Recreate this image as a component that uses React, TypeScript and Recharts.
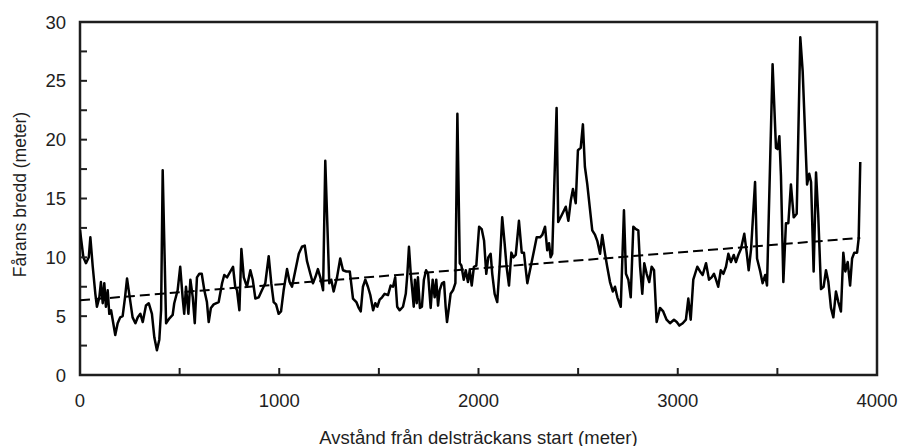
import React from "react";
import { LineChart, Line, XAxis, YAxis, ReferenceArea } from "recharts";

// avstånd (m) och fårans bredd (m)
const distance = [
  0, 17, 30, 44, 52, 64, 77, 85, 97, 105, 114, 122, 130, 139, 147, 156, 164, 177, 189, 202,
  214, 226, 236, 247, 264, 278, 290, 303, 315, 331, 345, 361, 373, 386, 398, 407, 415, 432, 448, 465,
  473, 490, 503, 515, 523, 532, 544, 554, 566, 576, 587, 599, 611, 624, 637,
  646, 657, 671, 696, 713, 724, 738, 768, 779, 788, 800, 810, 822, 838, 855, 867, 880, 897, 913, 930,
  947, 960, 972, 984, 997, 1009, 1022, 1039, 1052, 1064, 1081, 1098, 1114, 1128, 1139, 1156, 1169, 1181, 1194, 1206,
  1220, 1231, 1251, 1261, 1273, 1290, 1306,
  1320, 1337, 1354, 1370, 1387, 1399, 1409, 1420, 1432, 1445, 1457, 1471, 1482, 1492, 1504, 1516, 1529, 1546, 1559, 1571,
  1582, 1592, 1604, 1621, 1635, 1643, 1651, 1660, 1666, 1675, 1681, 1690, 1696, 1706, 1716, 1726, 1737, 1747, 1760, 1770,
  1780, 1788, 1797, 1805, 1817, 1827, 1835, 1842, 1852, 1860, 1872, 1884, 1894, 1906, 1914, 1926, 1936, 1947, 1956,
  1966, 1977, 1989, 2003, 2016, 2028, 2039, 2049, 2061, 2069, 2081, 2094, 2106, 2119, 2131, 2141, 2153, 2165, 2175, 2187,
  2203, 2217, 2228, 2237, 2245, 2262, 2279, 2292, 2309, 2320, 2334, 2345, 2354, 2362, 2370, 2392, 2400, 2418, 2438, 2451,
  2463, 2474, 2488, 2499, 2513, 2524, 2534, 2546, 2558, 2571, 2585, 2596, 2610, 2621,
  2635, 2646, 2660, 2674, 2685, 2697, 2714, 2730, 2740, 2752, 2764, 2777, 2790, 2802, 2811, 2822, 2832, 2844, 2857, 2869,
  2881, 2894, 2911, 2927, 2944, 2961, 2981, 2995, 3008, 3025, 3041, 3053, 3065, 3078, 3098, 3112, 3125, 3142, 3157, 3170,
  3182, 3192, 3203, 3216, 3229, 3242, 3254,
  3267, 3281, 3292, 3304, 3317, 3334, 3346, 3356, 3368, 3388, 3398, 3414, 3426, 3439, 3448, 3476, 3493, 3501, 3510, 3518,
  3530, 3543, 3555, 3568, 3582, 3597, 3615, 3627, 3649, 3660, 3669, 3682, 3694, 3705, 3719, 3732, 3744, 3756, 3769, 3781,
  3794, 3806, 3819, 3831, 3841, 3853, 3865, 3875, 3886, 3900, 3908, 3916,
];

const width = [
  12.3, 10.0, 9.5, 10.0, 11.7, 9.2, 6.9, 5.8, 6.6, 7.9, 6.1, 7.8, 5.8, 7.2, 5.2, 5.5, 4.7, 3.4, 4.4, 4.9,
  5.0, 6.6, 8.2, 6.9, 4.9, 4.4, 4.9, 5.2, 4.5, 5.9, 6.1, 5.2, 3.2, 2.1, 3.0, 5.5, 17.4, 4.4, 4.8, 5.1,
  6.1, 7.2, 9.2, 6.6, 5.2, 7.5, 5.2, 8.1, 6.6, 4.4, 8.3, 8.6, 8.6, 7.2, 6.2,
  4.5, 5.7, 6.0, 6.2, 7.8, 8.5, 8.3, 9.2, 7.5, 7.2, 5.5, 10.7, 8.3, 7.5, 8.9, 8.1, 6.5, 6.6, 7.2, 7.8,
  10.1, 7.8, 6.2, 6.0, 5.2, 5.4, 7.2, 9.0, 7.9, 7.5, 8.9, 10.3, 10.9, 11.0, 9.7, 8.6, 7.8, 8.3, 9.0, 8.3,
  7.2, 18.2, 7.8, 8.1, 7.1, 8.3, 9.9,
  8.9, 8.8, 8.8, 6.5, 6.2, 5.7, 5.4, 7.5, 8.1, 7.5, 6.8, 5.5, 6.1, 5.8, 6.4, 6.6, 6.9, 6.8, 7.6, 7.5,
  8.3, 5.8, 5.5, 5.8, 6.9, 8.6, 10.9, 8.6, 7.5, 5.8, 8.1, 6.1, 8.3, 5.7, 5.8, 8.1, 8.9, 8.6, 5.7, 8.1,
  6.6, 8.1, 5.9, 7.2, 7.8, 7.9, 5.8, 4.5, 5.8, 6.9, 7.2, 7.8, 22.2, 9.5, 9.3, 8.1, 8.9, 7.9, 8.9,
  7.6, 9.2, 9.3, 12.6, 12.4, 11.4, 8.6, 10.0, 10.3, 8.6, 6.9, 6.2, 9.2, 13.4, 11.2, 9.2, 7.6, 10.4, 10.0, 10.2,
  13.1, 10.4, 10.4, 9.0, 7.8, 9.2, 10.6, 11.7, 11.7, 11.9, 12.6, 10.6, 11.2, 10.0, 10.3, 22.7, 13.0, 13.6, 14.3, 13.1,
  14.8, 15.8, 14.6, 19.1, 19.3, 21.3, 17.7, 16.2, 14.3, 12.3, 11.9, 11.4, 10.3, 11.9,
  10.3, 9.2, 7.9, 7.1, 7.5, 6.6, 5.8, 14.0, 8.6, 8.1, 6.6, 12.6, 12.4, 12.3, 9.2, 6.9, 9.5, 8.6, 7.9, 9.2,
  8.9, 4.5, 5.7, 5.4, 4.7, 4.4, 4.7, 4.5, 4.2, 4.4, 4.7, 6.5, 4.7, 8.1, 9.2, 8.8, 8.5, 9.5, 8.1, 8.3,
  8.6, 8.1, 7.5, 8.9, 8.6, 9.2, 10.3,
  9.6, 10.2, 9.6, 10.2, 10.7, 12.0, 10.4, 8.9, 10.7, 16.4, 9.9, 8.8, 7.8, 8.5, 7.6, 26.4, 19.3, 19.2, 20.3, 16.9,
  7.9, 12.9, 12.9, 16.2, 13.4, 13.7, 28.7, 25.8, 16.2, 17.1, 16.4, 8.8, 17.2, 13.6, 7.3, 7.5, 8.9, 7.9, 5.7, 4.9,
  7.1, 6.2, 5.4, 10.4, 8.8, 9.6, 7.6, 9.9, 10.4, 10.4, 11.6, 18.1,
];

// linjär trend (streckad)
const trendDistance = [0, 3916];
const trendWidth = [6.35, 11.65];

const xTicks = [0, 500, 1000, 1500, 2000, 2500, 3000, 3500, 4000];
const yTicks = [0, 2.5, 5, 7.5, 10, 12.5, 15, 17.5, 20, 22.5, 25, 27.5, 30];

const data = distance.map((d, i) => ({ d, w: width[i] }));
const trend = trendDistance.map((d, i) => ({ d, t: trendWidth[i] }));

const FONT = '"Liberation Sans", Arial, Helvetica, sans-serif';
const INK = "#1e1e1e";
const tickStyle = { fontSize: 18.5, fill: INK, fontFamily: FONT };

const YLabel = ({ viewBox }: any) => {
  const cx = 20;
  const cy = viewBox.y + viewBox.height / 2 - 4;
  return (
    <text x={cx} y={cy} transform={`rotate(-90 ${cx} ${cy})`} textAnchor="middle" dominantBaseline="central"
      fontSize={17.5} fill={INK} fontFamily={FONT}>
      Fårans bredd (meter)
    </text>
  );
};

const XLabel = ({ viewBox }: any) => {
  const cx = viewBox.x + viewBox.width / 2;
  return (
    <text x={cx} y={437} textAnchor="middle" dominantBaseline="central" fontSize={18.5} fill={INK} fontFamily={FONT}>
      Avstånd från delsträckans start (meter)
    </text>
  );
};

export default function App() {
  return (
    <div style={{ position: "absolute", left: 0, top: 0, background: "#fff" }}>
      <LineChart width={902} height={446} data={data} margin={{ top: 22, right: 25, bottom: 0, left: 0 }}>
        <XAxis
          dataKey="d" type="number" domain={[0, 4000]} ticks={xTicks} height={71}
          tickFormatter={(v) => (v % 1000 === 0 ? String(v) : "")}
          tickSize={-7} tickMargin={26} stroke={INK} strokeWidth={2}
          axisLine={false} tickLine={true}
          tick={tickStyle} label={<XLabel />} allowDataOverflow
        />
        <YAxis
          type="number" domain={[0, 30]} ticks={yTicks} width={80}
          tickFormatter={(v) => (v % 5 === 0 ? String(v) : "")}
          tickSize={-7} tickMargin={21} stroke={INK} strokeWidth={2}
          axisLine={false} tickLine={true}
          tick={tickStyle} label={<YLabel />} allowDataOverflow
        />
        <ReferenceArea x1={0} x2={4000} y1={0} y2={30} fill="none" fillOpacity={0}
          stroke={INK} strokeWidth={2.5} ifOverflow="visible" />
        <Line data={data} dataKey="w" type="linear" stroke="#000" strokeWidth={2.5} dot={false}
          isAnimationActive={false} strokeLinejoin="round" />
        <Line data={trend} dataKey="t" type="linear" stroke="#000" strokeWidth={2} strokeDasharray="10 5"
          dot={false} isAnimationActive={false} />
      </LineChart>
    </div>
  );
}
